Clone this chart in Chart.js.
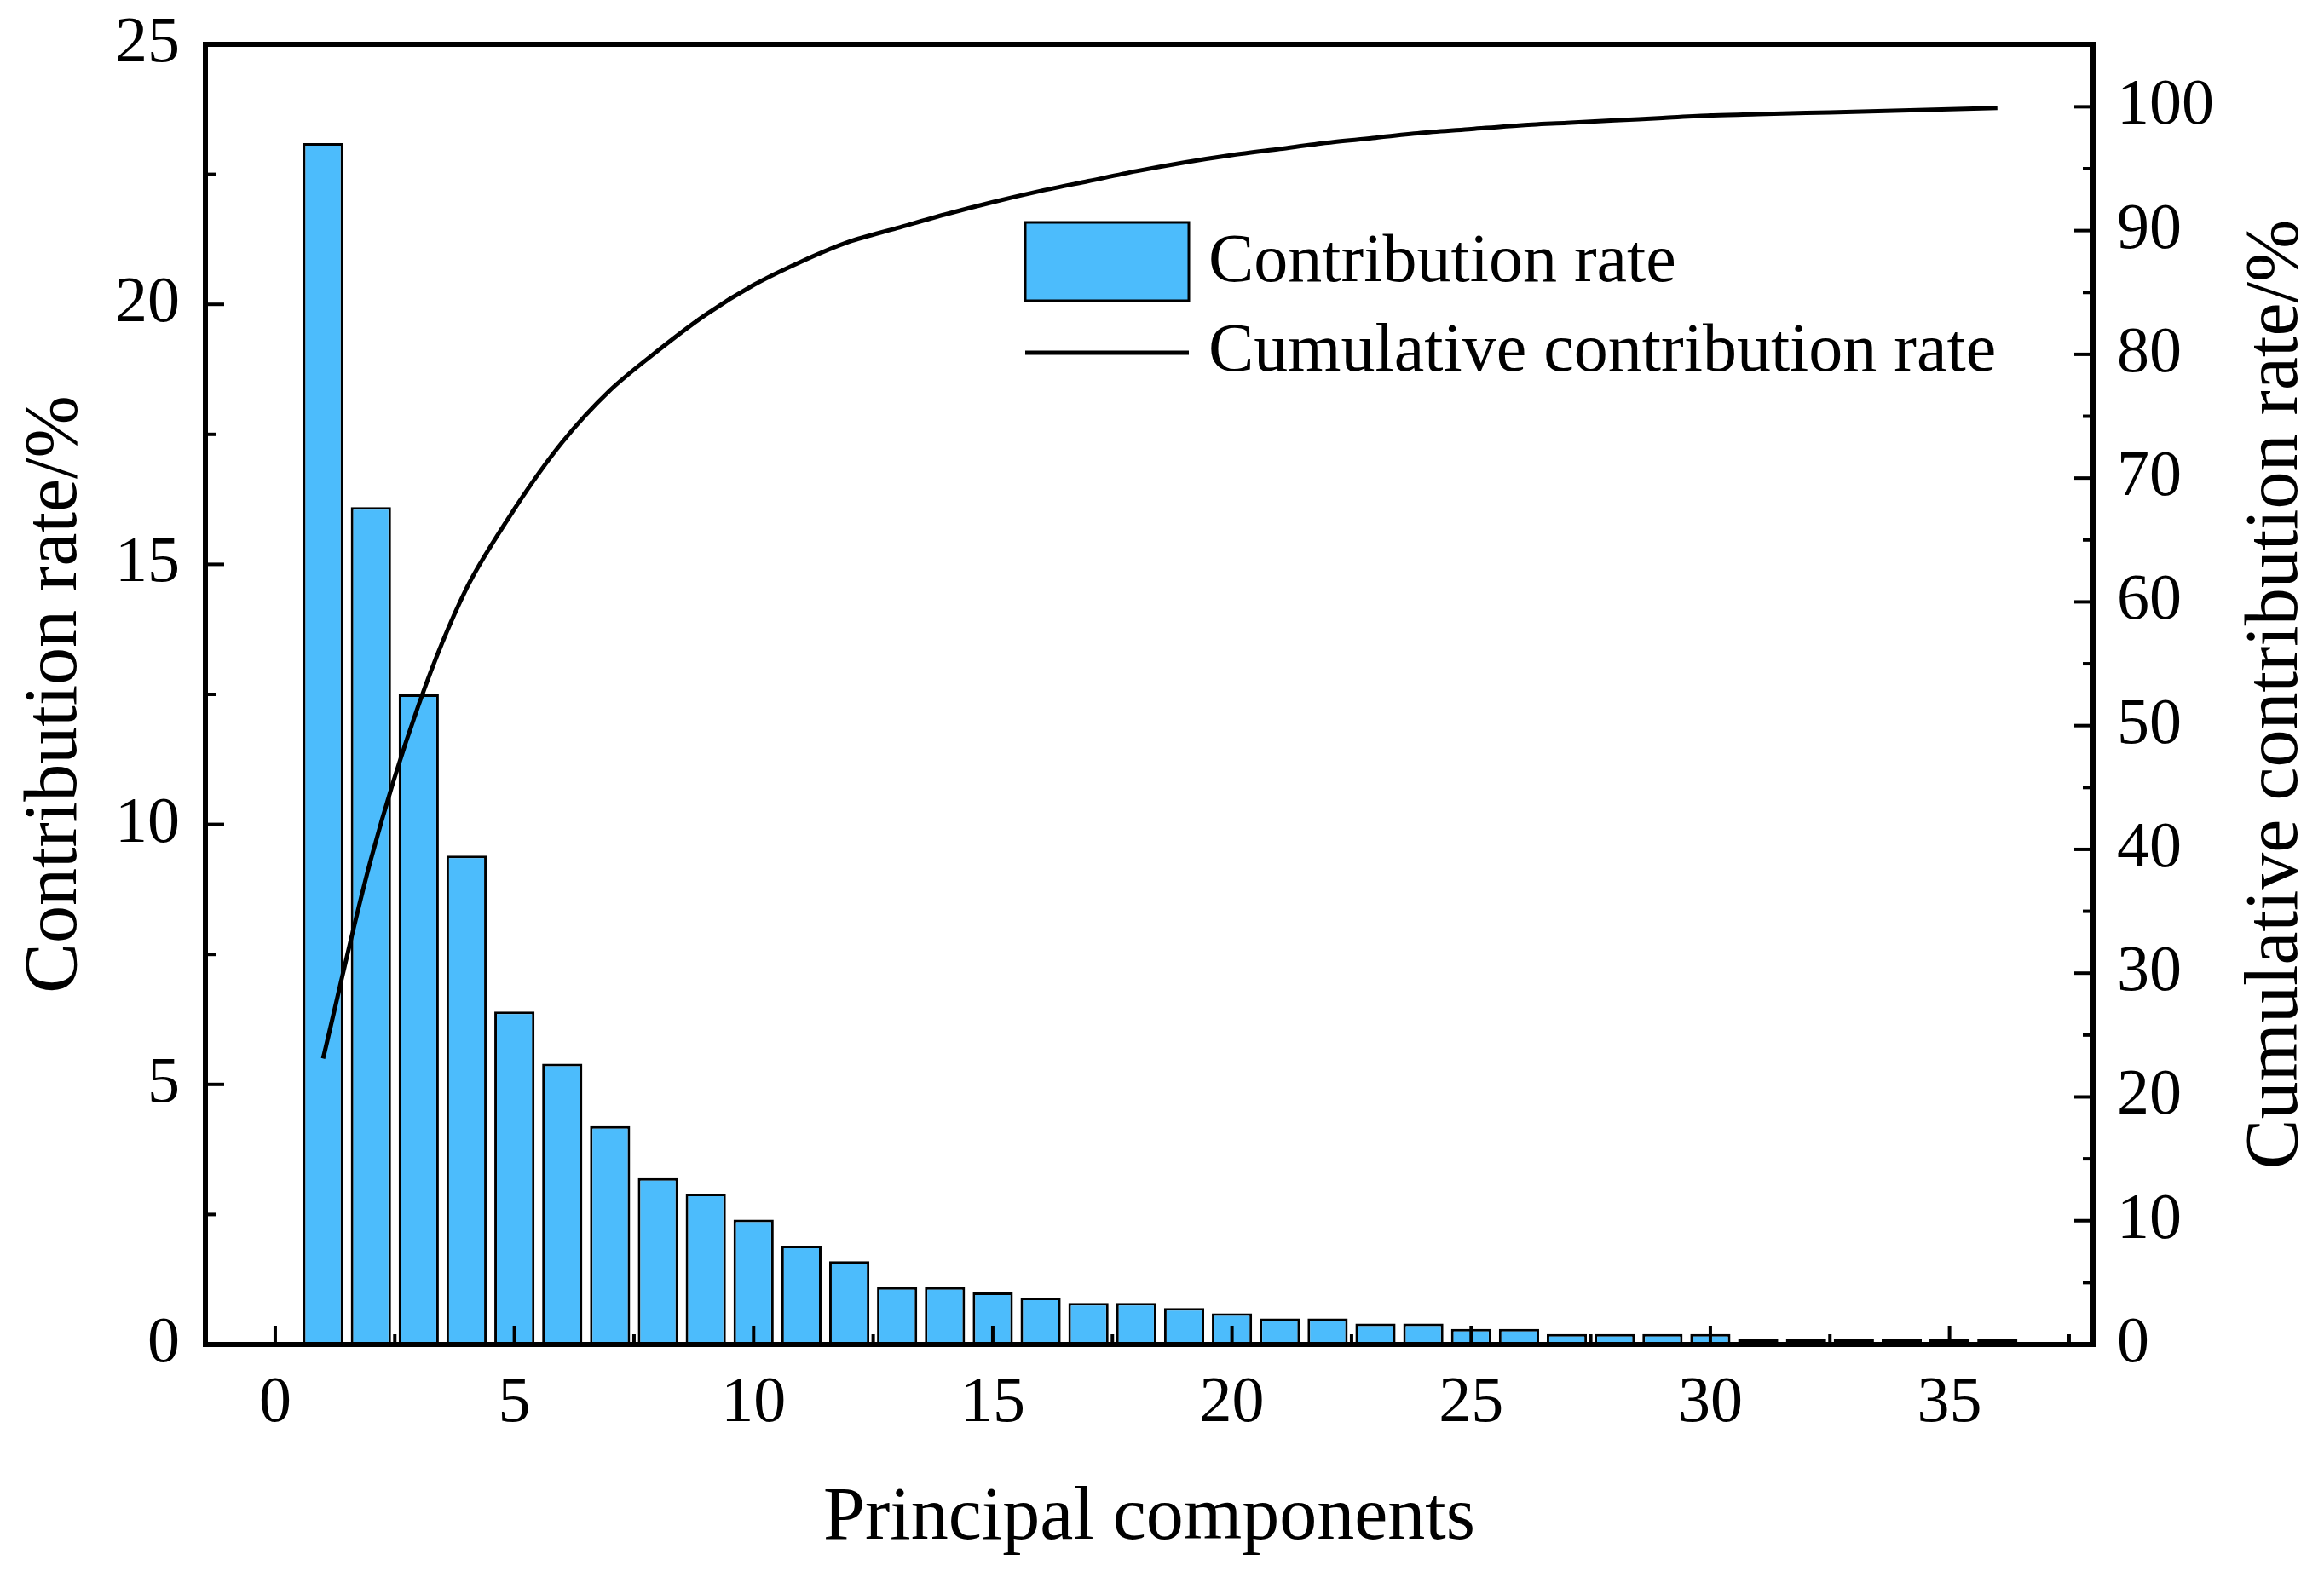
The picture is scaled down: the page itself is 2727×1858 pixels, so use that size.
<!DOCTYPE html>
<html>
<head>
<meta charset="utf-8">
<script src="https://cdn.jsdelivr.net/npm/chart.js@4"></script>
<style>
  html, body { margin: 0; padding: 0; background: #fff; }
  canvas { display: block; }
</style>
</head>
<body>
<canvas id="chart" width="2727" height="1858"></canvas>
<script>
const components = [1, 2, 3, 4, 5, 6, 7, 8, 9, 10, 11, 12, 13, 14, 15, 16, 17, 18,
    19, 20, 21, 22, 23, 24, 25, 26, 27, 28, 29, 30, 31, 32, 33, 34, 35, 36];
const contribution = [23.1, 16.1, 12.5, 9.4, 6.4, 5.4, 4.2, 3.2, 2.9, 2.4, 1.9, 1.6,
    1.1, 1.1, 1.0, 0.9, 0.8, 0.8, 0.7, 0.6, 0.5, 0.5, 0.4, 0.4, 0.3, 0.3,
    0.2, 0.2, 0.2, 0.2, 0.1, 0.1, 0.1, 0.1, 0.1, 0.1];
const cumulative = [23.1, 39.2, 51.7, 61.1, 67.5, 72.9, 77.1, 80.3, 83.2, 85.6, 87.5, 89.1,
    90.2, 91.3, 92.3, 93.2, 94.0, 94.8, 95.5, 96.1, 96.6, 97.1, 97.5, 97.9, 98.2, 98.5,
    98.7, 98.9, 99.1, 99.3, 99.4, 99.5, 99.6, 99.7, 99.8, 99.9];
const xTicks = [0, 5, 10, 15, 20, 25, 30, 35];
const leftTicks = [0, 5, 10, 15, 20, 25];
const rightTicks = [0, 10, 20, 30, 40, 50, 60, 70, 80, 90, 100];

const FONT = '"Liberation Serif", "Times New Roman", serif';
const BAR_COLOR = '#4cbcfc';

// Origin-style frame, inward ticks, labels, titles and legend.
const framePlugin = {
    id: 'frame',
    afterDatasetsDraw(chart) {
        const { ctx, chartArea: a, scales } = chart;
        const x = scales.x, y = scales.y, y2 = scales.y2;
        ctx.save();
        ctx.strokeStyle = '#000';
        ctx.fillStyle = '#000';
        ctx.lineWidth = 6;
        ctx.strokeRect(a.left, a.top, a.right - a.left, a.bottom - a.top);

        ctx.lineWidth = 4;
        const tick = (x1, y1, x2, y2p) => {
            ctx.beginPath(); ctx.moveTo(x1, y1); ctx.lineTo(x2, y2p); ctx.stroke();
        };
        for (let v = 0; v <= 37.5; v += 2.5) {
            const px = x.getPixelForValue(v);
            tick(px, a.bottom, px, a.bottom - (v % 5 === 0 ? 22 : 12));
        }
        for (let v = 0; v <= 25; v += 2.5) {
            const py = y.getPixelForValue(v);
            tick(a.left, py, a.left + (v % 5 === 0 ? 22 : 12), py);
        }
        for (let v = 0; v <= 105; v += 5) {
            const py = y2.getPixelForValue(v);
            tick(a.right, py, a.right - (v % 10 === 0 ? 22 : 12), py);
        }

        ctx.font = `76px ${FONT}`;
        ctx.textBaseline = 'middle';
        ctx.textAlign = 'center';
        xTicks.forEach((v) => ctx.fillText(String(v), x.getPixelForValue(v), a.bottom + 70));
        ctx.textAlign = 'right';
        leftTicks.forEach((v) => ctx.fillText(String(v), a.left - 30, y.getPixelForValue(v)));
        ctx.textAlign = 'left';
        rightTicks.forEach((v) => ctx.fillText(String(v), a.right + 28, y2.getPixelForValue(v)));

        ctx.font = `88px ${FONT}`;
        ctx.textAlign = 'center';
        ctx.fillText('Principal components', (a.left + a.right) / 2, 1783);
        const midY = (a.top + a.bottom) / 2;
        [[66, 'Contribution rate/%'], [2672, 'Cumulative contribution rate/%']].forEach(([tx, t]) => {
            ctx.save();
            ctx.translate(tx, midY);
            ctx.rotate(-Math.PI / 2);
            ctx.fillText(t, 0, 0);
            ctx.restore();
        });

        // legend
        ctx.fillStyle = BAR_COLOR;
        ctx.fillRect(1203, 261, 192, 92);
        ctx.lineWidth = 3;
        ctx.strokeRect(1203, 261, 192, 92);
        ctx.lineWidth = 5;
        tick(1203, 414, 1395, 414);
        ctx.fillStyle = '#000';
        ctx.font = `80px ${FONT}`;
        ctx.textAlign = 'left';
        ctx.fillText('Contribution rate', 1418, 309);
        ctx.fillText('Cumulative contribution rate', 1418, 414);
        ctx.restore();
    },
};

new Chart(document.getElementById('chart'), {
    type: 'bar',
    data: {
        datasets: [
            {
                type: 'line',
                data: components.map((c, i) => ({ x: c, y: cumulative[i] })),
                yAxisID: 'y2',
                borderColor: '#000',
                borderWidth: 5,
                pointRadius: 0,
                tension: 0.3,
                order: 0,
            },
            {
                type: 'bar',
                data: components.map((c, i) => ({ x: c, y: contribution[i] })),
                yAxisID: 'y',
                backgroundColor: BAR_COLOR,
                borderColor: '#000',
                borderWidth: 3,
                borderSkipped: false,
                barPercentage: 0.84,
                categoryPercentage: 1,
                order: 1,
            },
        ],
    },
    options: {
        responsive: false,
        animation: false,
        layout: { padding: { left: 241, right: 271, top: 52, bottom: 280 } },
        plugins: { legend: { display: false }, tooltip: { enabled: false } },
        scales: {
            x: { type: 'linear', min: -1.46, max: 38, offset: false, display: false },
            y: { min: 0, max: 25, display: false },
            y2: { min: 0, max: 105.05, display: false, position: 'right' },
        },
    },
    plugins: [framePlugin],
});
</script>
</body>
</html>
